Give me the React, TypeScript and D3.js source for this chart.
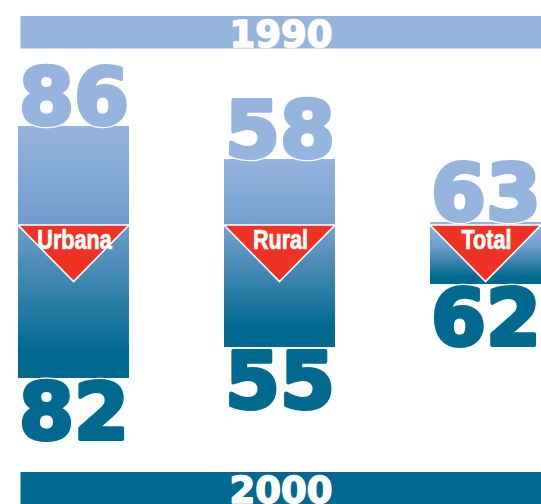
import React from "react";
import * as d3 from "d3";

const categories = ["Urbana", "Rural", "Total"];
const values1990 = [86, 58, 63];
const values2000 = [82, 55, 62];
// bar reach above / below the divider (chart units)
const reachUp = [99, 66, 3];
const reachDown = [153, 122, 59];
const yearLabels = ["1990", "2000"];

const W = 541;
const H = 504;
const LIGHT = "#95b4de";
const MID = "#6e9cca";
const DARK = "#00698f";
const RED = "#ee3325";

export default function App() {
  const x = d3.scaleBand<string>().domain(categories).range([18, 541]).paddingInner(0.461).paddingOuter(0);
  const y = d3.scaleLinear().domain([0, 100]).range([225, 125]);
  const bw = x.bandwidth();
  const numSize = 79;
  const thick = 4;
  const capH = numSize * 0.729 + thick / 2;

  const bigNum = (key: string, val: number, tx: number, ty: number, color: string) => (
    <g key={key}>
      <text
        x={tx}
        y={ty}
        fill="none"
        stroke="#fff"
        strokeWidth={thick + 2.5}
        strokeLinejoin="round"
        fontFamily="DejaVu Sans"
        fontWeight="bold"
        fontSize={numSize}
      >
        {val}
      </text>
      <text
        x={tx}
        y={ty}
        fill={color}
        stroke={color}
        strokeWidth={thick}
        strokeLinejoin="round"
        fontFamily="DejaVu Sans"
        fontWeight="bold"
        fontSize={numSize}
      >
        {val}
      </text>
    </g>
  );

  return (
    <svg width={W} height={H} style={{ position: "absolute", left: 0, top: 0, display: "block" }}>
      <defs>
        <linearGradient id="barGrad" x1="0" y1="0" x2="0" y2="1">
          <stop offset="0" stopColor={LIGHT} />
          <stop offset="0.4" stopColor={MID} />
          <stop offset="0.9" stopColor={DARK} />
          <stop offset="1" stopColor={DARK} />
        </linearGradient>
      </defs>
      <rect width={W} height={H} fill="#fff" />
      {/* year bands */}
      <rect x={20.5} y={16} width={W - 20.5} height={32.5} fill={LIGHT} />
      <text x={281} y={46.5} textAnchor="middle" fill="#fff" stroke="#fff" strokeWidth={1.6} strokeLinejoin="round" fontFamily="DejaVu Sans" fontWeight="bold" fontSize={37}>
        {yearLabels[0]}
      </text>
      <rect x={20.5} y={472} width={W - 20.5} height={H - 472} fill={DARK} />
      <text x={281} y={503} textAnchor="middle" fill="#fff" stroke="#fff" strokeWidth={1.6} strokeLinejoin="round" fontFamily="DejaVu Sans" fontWeight="bold" fontSize={37}>
        {yearLabels[1]}
      </text>

      {categories.map((c, i) => {
        const x0 = x(c) as number;
        const top = y(reachUp[i]);
        const bottom = y(-reachDown[i]);
        const mid = y(0);
        const apex = mid + bw * 0.51;
        const cx = x0 + bw / 2;
        return (
          <g key={c}>
            <rect x={x0} y={top} width={bw} height={bottom - top} fill="url(#barGrad)" />
            <path
              d={`M${x0},${mid}L${x0 + bw},${mid}L${cx},${apex}Z`}
              fill={RED}
              stroke="#fff"
              strokeWidth={1.6}
              strokeLinejoin="miter"
            />
            <text
              transform={`translate(${cx + 1},${mid + 23.5}) scale(0.8,1)`}
              textAnchor="middle"
              fill="#fff"
              stroke="#fff"
              strokeWidth={0.7}
              fontFamily="Liberation Sans"
              fontWeight="bold"
              fontSize={27}
            >
              {c}
            </text>
            {bigNum(c + "a", values1990[i], x0 + 1, top - thick / 2 - 0.5, LIGHT)}
            {bigNum(c + "b", values2000[i], x0 + 1, bottom + capH + 1, DARK)}
          </g>
        );
      })}
    </svg>
  );
}
